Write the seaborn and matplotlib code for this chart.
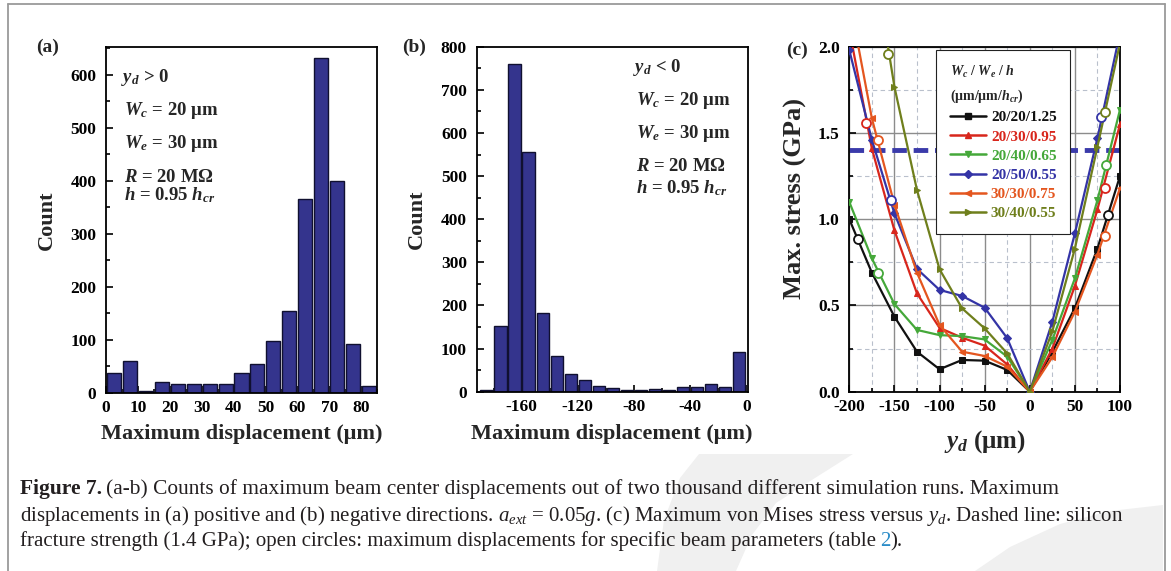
import matplotlib
matplotlib.use('Agg')
import matplotlib.pyplot as plt
import numpy as np
import pandas as pd
import seaborn as sns
from matplotlib.lines import Line2D
from matplotlib.patches import Polygon
from matplotlib.ticker import MultipleLocator, FormatStrFormatter

W, H = 1171, 571

# (a) y_d > 0 : counts in 5 um bins
pos_edges = list(range(0, 90, 5))
pos_counts = [37, 60, 4, 20, 16, 16, 16, 17, 37, 54, 98, 155, 365, 632, 400, 91, 12]

# (b) y_d < 0 : counts in 10 um bins
neg_edges = list(range(-190, 10, 10))
neg_counts = [3, 152, 761, 556, 183, 83, 41, 28, 14, 8, 5, 5, 6, 5, 12, 10, 19, 10, 91]

# (c) max. stress (GPa) versus y_d (um)
yd = [-200, -175, -150, -125, -100, -75, -50, -25, 0, 25, 50, 75, 100]
series_labels = ['20/20/1.25', '20/30/0.95', '20/40/0.65', '20/50/0.55', '30/30/0.75', '30/40/0.55']
stress_20_20 = [1.00, 0.69, 0.435, 0.232, 0.13, 0.184, 0.18, 0.126, 0.0, 0.23, 0.485, 0.83, 1.25]
stress_20_30 = [2.10, 1.41, 0.935, 0.57, 0.37, 0.313, 0.267, 0.158, 0.0, 0.25, 0.613, 1.057, 1.55]
stress_20_40 = [1.10, 0.773, 0.508, 0.358, 0.328, 0.322, 0.303, 0.203, 0.0, 0.30, 0.657, 1.11, 1.635]
stress_20_50 = [1.98, 1.46, 1.034, 0.712, 0.59, 0.555, 0.487, 0.31, 0.0, 0.405, 0.918, 1.47, 2.08]
stress_30_30 = [2.28, 1.585, 1.085, 0.69, 0.387, 0.232, 0.207, 0.145, 0.0, 0.20, 0.464, 0.795, 1.18]
stress_30_40 = [3.40, 2.58, 1.768, 1.169, 0.71, 0.483, 0.367, 0.222, 0.0, 0.35, 0.83, 1.42, 2.02]
# open circles: maximum displacements (left side, right side)
circ_x = [[-190.7, 86.7], [-181.5, 83.0], [-168.0, 85.0], [-153.8, 79.4], [-168.6, 83.0], [-156.8, 83.5]]
circ_y = [[0.883, 1.024], [1.56, 1.18], [0.69, 1.314], [1.11, 1.59], [1.46, 0.90], [1.96, 1.62]]
fracture = 1.4

colors = ['#111111', '#d8261c', '#45a83a', '#3434a6', '#e4561f', '#6f7f1c']
marks = ['s', '^', 'v', 'D', '<', '>']
msizes = [4.5, 5, 5, 4, 5, 5]

sns.set_style('ticks')
plt.rcParams['font.family'] = ['Liberation Serif', 'DejaVu Serif']
plt.rcParams['font.weight'] = 'bold'
plt.rcParams['axes.labelweight'] = 'bold'
plt.rcParams['axes.unicode_minus'] = False
plt.rcParams['mathtext.fontset'] = 'custom'
plt.rcParams['mathtext.rm'] = 'Liberation Serif:normal'
plt.rcParams['mathtext.it'] = 'Liberation Serif:italic:normal'
plt.rcParams['mathtext.bf'] = 'Liberation Serif:italic:bold'
plt.rcParams['mathtext.sf'] = 'Liberation Serif:bold'

fig = plt.figure(figsize=(W / 100, H / 100), dpi=100, facecolor='white')


def box(l, t, r, b):
    return [l / W, 1 - b / H, (r - l) / W, (b - t) / H]


def fpos(x, y):
    return x / W, 1 - y / H


def style_axis(ax):
    for sp in ax.spines.values():
        sp.set_visible(True)
        sp.set_color('black')
        sp.set_linewidth(1.3)
    ax.tick_params(which='both', direction='in', width=1.2, labelsize=12.5,
                   top=False, right=False, colors='black')
    ax.tick_params(which='major', length=5)
    ax.tick_params(which='minor', length=3)
    ax.tick_params(axis='y', pad=7)
    ax.tick_params(axis='x', pad=5)


# watermark and frame
for pts in ([(699, 454), (853, 454), (815, 478), (776, 503), (752, 535), (736, 571), (657, 571),
             (664, 520), (680, 478)],
            [(975, 571), (1010, 547), (1060, 524), (1110, 511), (1163, 505), (1163, 571)]):
    fig.add_artist(Polygon([fpos(x, y) for x, y in pts], closed=True, transform=fig.transFigure,
                           facecolor='#f0f0f0', edgecolor='none', zorder=0))
fr = dict(transform=fig.transFigure, color='#9a9a9a', lw=1.3, zorder=1)
fig.add_artist(Line2D([8 / W, 8 / W], [0, 1 - 4 / H], **fr))
fig.add_artist(Line2D([8 / W, 1164.5 / W], [1 - 4 / H, 1 - 4 / H], **fr))
fig.add_artist(Line2D([1164.5 / W, 1164.5 / W], [0, 1 - 4 / H], **fr))

bar_kw = dict(color='#34348d', edgecolor='#101030', linewidth=1.0, alpha=1, shrink=0.88)

# ---- (a)
ax1 = fig.add_axes(box(106, 47, 377, 392.7))
pos_df = pd.DataFrame({'center': [(a + b) / 2 for a, b in zip(pos_edges[:-1], pos_edges[1:])],
                       'count': pos_counts})
sns.histplot(data=pos_df, x='center', weights='count', bins=pos_edges, ax=ax1, **bar_kw)
ax1.set_xlim(0, 85)
ax1.set_ylim(0, 652)
ax1.xaxis.set_major_locator(MultipleLocator(10))
ax1.xaxis.set_minor_locator(MultipleLocator(5))
ax1.yaxis.set_major_locator(MultipleLocator(100))
ax1.yaxis.set_minor_locator(MultipleLocator(50))
style_axis(ax1)
ax1.set_xlabel('Maximum displacement (μm)', fontsize=16)
ax1.set_ylabel('Count', fontsize=16)
ax1.xaxis.set_label_coords(0.5, -0.09)
ax1.yaxis.set_label_coords(-0.181, 0.5)

# ---- (b)
ax2 = fig.add_axes(box(476.7, 46.7, 747.7, 391.7))
neg_df = pd.DataFrame({'center': [(a + b) / 2 for a, b in zip(neg_edges[:-1], neg_edges[1:])],
                       'count': neg_counts})
sns.histplot(data=neg_df, x='center', weights='count', bins=neg_edges, ax=ax2, **bar_kw)
ax2.set_xlim(-192, 1)
ax2.set_ylim(0, 800)
ax2.set_xticks([-160, -120, -80, -40, 0])
ax2.xaxis.set_minor_locator(MultipleLocator(20))
ax2.yaxis.set_major_locator(MultipleLocator(100))
ax2.yaxis.set_minor_locator(MultipleLocator(50))
style_axis(ax2)
ax2.set_xlabel('Maximum displacement (μm)', fontsize=16)
ax2.set_ylabel('Count', fontsize=16)
ax2.xaxis.set_label_coords(0.5, -0.095)
ax2.yaxis.set_label_coords(-0.184, 0.5)

# ---- (c)
ax3 = fig.add_axes(box(849.3, 46.7, 1120, 391.7))
ax3.set_xlim(-200, 100)
ax3.set_ylim(0, 2.0)
ax3.xaxis.set_major_locator(MultipleLocator(50))
ax3.xaxis.set_minor_locator(MultipleLocator(25))
ax3.yaxis.set_major_locator(MultipleLocator(0.5))
ax3.yaxis.set_minor_locator(MultipleLocator(0.25))
ax3.yaxis.set_major_formatter(FormatStrFormatter('%.1f'))
ax3.grid(which='major', color='#8c8c8c', lw=1.0, ls='-')
ax3.grid(which='minor', color='#b9c0cc', lw=0.8, ls=(0, (4, 3)))
ax3.set_axisbelow(True)
ax3.axhline(fracture, color='#3a3aaa', lw=3.5, ls=(0, (3.0, 1.4)), zorder=2)
all_stress = [stress_20_20, stress_20_30, stress_20_40, stress_20_50, stress_30_30, stress_30_40]
handles = []
for vals, c, m, ms, lab in zip(all_stress, colors, marks, msizes, series_labels):
    sns.lineplot(x=yd, y=vals, ax=ax3, color=c, marker=m, markersize=ms, markeredgecolor=c,
                 lw=1.6, zorder=3, legend=False)
    handles.append(Line2D([], [], color=c, marker=m, markersize=ms, markeredgecolor=c, lw=1.8, label=lab))
for cx, cy, c in zip(circ_x, circ_y, colors):
    sns.scatterplot(x=cx, y=cy, ax=ax3, color='white', edgecolor=c, s=42, linewidth=1.3, zorder=6)
style_axis(ax3)
ax3.set_xlabel(r'$\mathbf{y}_\mathbf{d}$ (μm)', fontsize=18)
ax3.set_ylabel('Max. stress (GPa)', fontsize=19)
ax3.xaxis.set_label_coords(0.5, -0.105)
ax3.yaxis.set_label_coords(-0.155, 0.56)
leg = ax3.legend(handles=handles, loc='upper left', bbox_to_anchor=(0.32, 0.99), borderaxespad=0,
                 title=r'$\mathbf{W}_\mathbf{c}$ / $\mathbf{W}_\mathbf{e}$ / $\mathbf{h}$' + '\n' +
                       r'(μm/μm/$\mathbf{h}_\mathbf{cr}$)',
                 alignment='left', prop={'size': 11, 'weight': 'bold'},
                 title_fontproperties={'size': 10, 'weight': 'bold'},
                 frameon=True, fancybox=False, framealpha=1, edgecolor='#222222',
                 handlelength=2.4, handletextpad=0.3, labelspacing=0.36, borderpad=0.9)
leg.get_frame().set_linewidth(0.8)
leg.get_title().set_linespacing(1.65)
leg.set_zorder(10)
for t, c in zip(leg.get_texts(), colors):
    t.set_color(c)

# panel letters
for lab, (x, y) in zip(['(a)', '(b)', '(c)'], [(47.5, 47), (414, 47), (797, 50)]):
    fig.text(*fpos(x, y), lab, ha='center', va='center', fontsize=14, fontweight='bold')

# annotation blocks in (a) and (b)
info = [r'$\mathbf{y}_\mathbf{d}$ > 0', r'$\mathbf{W}_\mathbf{c}$ = 20 μm', r'$\mathbf{W}_\mathbf{e}$ = 30 μm',
        r'$\mathbf{R}$ = 20 MΩ', r'$\mathbf{h}$ = 0.95 $\mathbf{h}_\mathbf{cr}$']
for i, (s, y) in enumerate(zip(info, [82.5, 115, 148, 182, 200])):
    fig.text(*fpos(121 if i == 0 else 124, y), s, ha='left', va='baseline', fontsize=13.5, fontweight='bold')
info[0] = r'$\mathbf{y}_\mathbf{d}$ < 0'
for i, (s, y) in enumerate(zip(info, [71.5, 105, 138, 171.5, 193])):
    fig.text(*fpos(633 if i == 0 else 636.5, y), s, ha='left', va='baseline', fontsize=13.5, fontweight='bold')

# caption
cap = dict(fontsize=15, fontweight='normal', color='#231f20', va='baseline', ha='left')
renderer = fig.canvas.get_renderer()


def caption_line(y, pieces):
    x = 20
    for txt, kw, gap in pieces:
        t = fig.text(*fpos(x + gap, y), txt, **{**cap, **kw})
        x = t.get_window_extent(renderer=renderer).x1


caption_line(494, [('Figure 7.', {'fontweight': 'bold', 'fontsize': 15.5}, 0),
                   ('(a-b) Counts of maximum beam center displacements out of two thousand different '
                    'simulation runs. Maximum', {'fontsize': 15.4}, 4)])
caption_line(521, [(r'displacements in (a) positive and (b) negative directions. '
                    r'$\mathit{a}_{\mathit{ext}}$ = 0.05$\mathit{g}$. (c) Maximum von Mises stress versus '
                    r'$\mathit{y}_{\mathit{d}}$. Dashed line: silicon', {}, 0)])
caption_line(546, [('fracture strength (1.4 GPa); open circles: maximum displacements for specific '
                    'beam parameters (table', {}, 0), ('2', {'color': '#2a8cc8'}, 4), (').', {}, 0)])

fig.savefig('out.png', dpi=100, facecolor='white')
